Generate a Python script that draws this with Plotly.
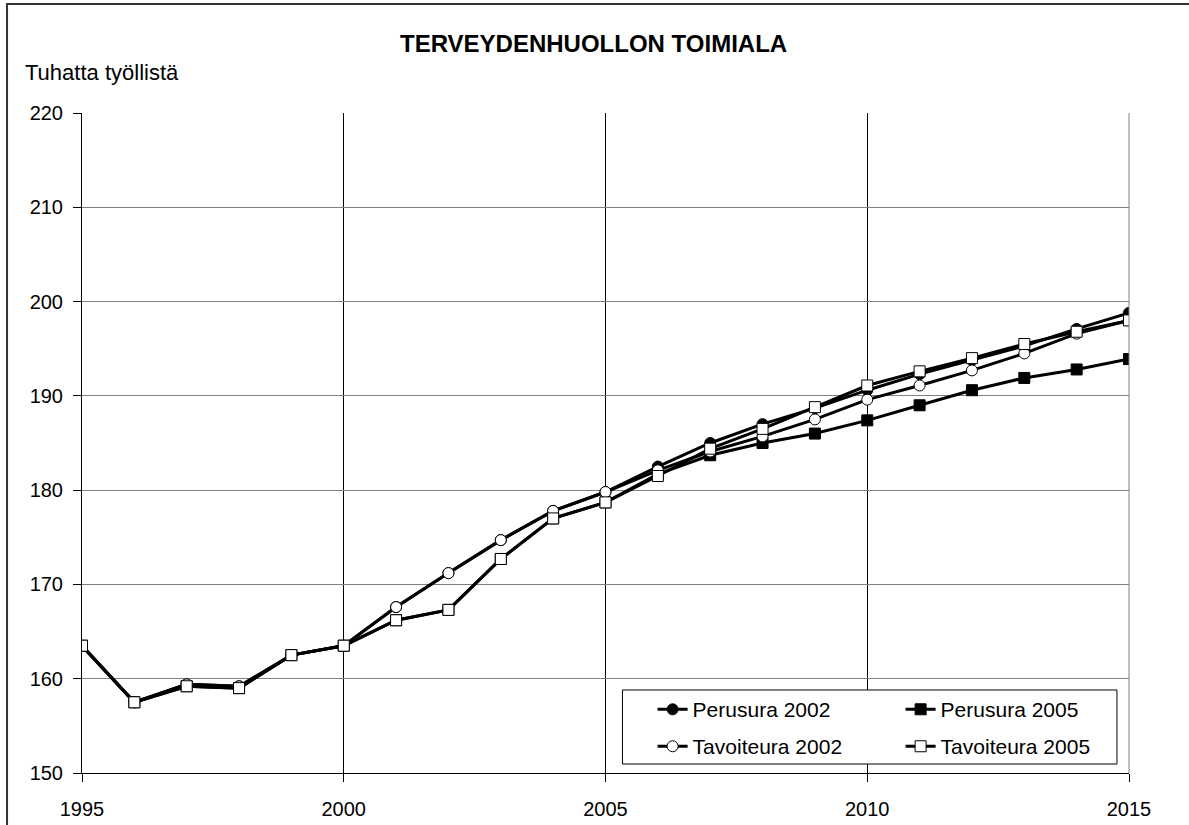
import plotly.graph_objects as go

years = list(range(1995, 2016))

perusura_2002 = [163.5, 157.5, 159.4, 159.2, 162.5, 163.5, 167.6, 171.2, 174.7, 177.8, 179.8,
                 182.5, 185.0, 187.0, 188.7, 190.6, 192.3, 193.8, 195.3, 197.1, 198.8]
perusura_2005 = [163.5, 157.5, 159.2, 159.0, 162.5, 163.5, 166.2, 167.3, 172.7, 177.0, 178.7,
                 181.7, 183.7, 185.0, 186.0, 187.4, 189.0, 190.6, 191.9, 192.8, 193.9]
tavoiteura_2002 = [163.5, 157.5, 159.4, 159.2, 162.5, 163.5, 167.6, 171.2, 174.7, 177.8, 179.8,
                   182.1, 184.1, 185.7, 187.5, 189.6, 191.1, 192.7, 194.5, 196.6, 198.0]
tavoiteura_2005 = [163.5, 157.5, 159.2, 159.0, 162.5, 163.5, 166.2, 167.3, 172.7, 177.0, 178.7,
                   181.5, 184.4, 186.5, 188.8, 191.1, 192.6, 194.0, 195.5, 196.8, 198.0]

x_ticks = [1995, 2000, 2005, 2010, 2015]
y_ticks = [150, 160, 170, 180, 190, 200, 210, 220]

FONT = "Liberation Sans, Arial, sans-serif"

series = [
    ("Perusura 2002", perusura_2002, "circle", "black", "legend"),
    ("Perusura 2005", perusura_2005, "square", "black", "legend"),
    ("Tavoiteura 2002", tavoiteura_2002, "circle", "white", "legend2"),
    ("Tavoiteura 2005", tavoiteura_2005, "square", "white", "legend2"),
]

fig = go.Figure()
for name, vals, sym, fill, leg in series:
    fig.add_trace(go.Scatter(
        x=years, y=vals, name=name, mode="lines+markers",
        line=dict(color="black", width=3),
        marker=dict(symbol=sym, size=11, color=fill, line=dict(color="black", width=1)),
        legend=leg,
    ))

legend_common = dict(
    orientation="h", xanchor="left", yanchor="middle",
    bgcolor="rgba(0,0,0,0)", borderwidth=0,
    font=dict(family=FONT, size=21, color="black"),
    entrywidth=203, entrywidthmode="pixels",
    itemclick=False, itemdoubleclick=False, tracegroupgap=0,
)

fig.update_layout(
    width=1189, height=825,
    paper_bgcolor="white", plot_bgcolor="white",
    margin=dict(l=82, r=60, t=113, b=52),
    font=dict(family=FONT, size=20, color="black"),
    showlegend=True,
    legend=dict(x=0.545, y=0.096, **legend_common),
    legend2=dict(x=0.545, y=0.040, **legend_common),
    xaxis=dict(
        range=[1995, 2015], tickvals=x_ticks, ticktext=[str(v) for v in x_ticks],
        showgrid=True, gridcolor="black", gridwidth=1,
        showline=True, linecolor="black", linewidth=1,
        ticks="outside", ticklen=8, tickcolor="black",
        ticklabelstandoff=10, automargin=False,
        tickfont=dict(family=FONT, size=20, color="black"),
        zeroline=False,
    ),
    yaxis=dict(
        range=[150, 220], tickvals=y_ticks,
        showgrid=True, gridcolor="#808080", gridwidth=1,
        showline=True, linecolor="black", linewidth=1,
        ticks="outside", ticklen=8, tickcolor="black",
        ticklabelstandoff=6, automargin=False,
        tickfont=dict(family=FONT, size=20, color="black"),
        zeroline=False,
    ),
    annotations=[
        dict(text="<b>TERVEYDENHUOLLON TOIMIALA</b>", xref="paper", yref="paper",
             x=0.489, y=1.106, xanchor="center", yanchor="middle", showarrow=False,
             font=dict(family=FONT, size=24, color="black")),
        dict(text="Tuhatta työllistä", xref="paper", yref="paper",
             x=-0.056, y=1.062, xanchor="left", yanchor="middle", showarrow=False,
             font=dict(family=FONT, size=22, color="black")),
    ],
    shapes=[
        # right plot border
        dict(type="line", xref="paper", yref="paper", x0=1, x1=1, y0=0, y1=1,
             line=dict(color="#808080", width=1)),
        # legend box
        dict(type="rect", xref="paper", yref="paper", x0=0.5162, x1=0.9885, y0=0.0136, y1=0.1258,
             fillcolor="white", line=dict(color="black", width=1), layer="above"),
        # outer chart frame
        dict(type="rect", xref="paper", yref="paper", x0=-0.0716, x1=1.2, y0=-0.3, y1=1.165,
             fillcolor="rgba(0,0,0,0)", line=dict(color="#333333", width=2), layer="above"),
    ],
)

fig.write_html("out.html", config={"displayModeBar": False},
               post_script="document.body.style.margin='0';")
